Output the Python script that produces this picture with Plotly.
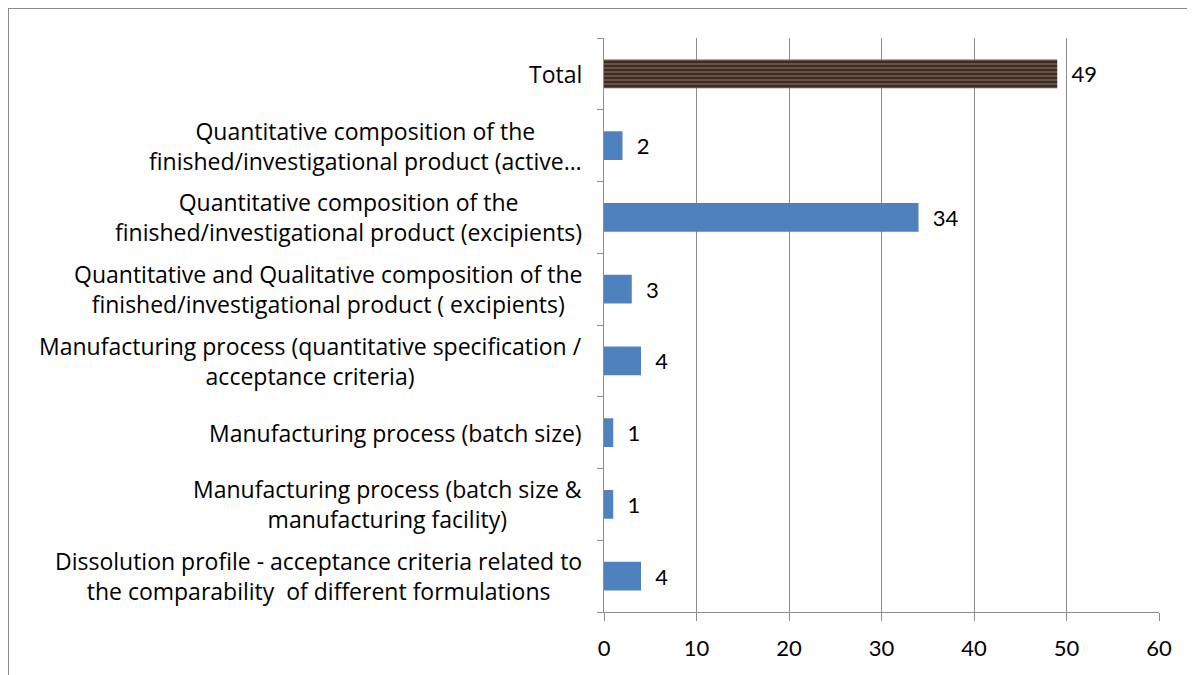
import plotly.graph_objects as go

# ---------------------------------------------
# DATA (bottom to top)
# ---------------------------------------------
categories = [
    "Dissolution profile - acceptance criteria related to<br>the comparability  of different formulations",
    "Manufacturing process (batch size &<br>manufacturing facility)",
    "Manufacturing process (batch size)",
    "Manufacturing process (quantitative specification /<br>acceptance criteria)",
    "Quantitative and Qualitative composition of the<br>finished/investigational product ( excipients)",
    "Quantitative composition of the<br>finished/investigational product (excipients)",
    "Quantitative composition of the<br>finished/investigational product (active…",
    "Total",
]
counts = [4, 1, 1, 4, 3, 34, 2, 49]
x_ticks = [0, 10, 20, 30, 40, 50, 60]

BLUE = "#4F81BD"
BROWN = "#3F2C1F"
GRID = "#8C8C8C"
FONT = "Lato"
LABEL_FONT = "Open Sans"

bar_colors = [BROWN if c == "Total" else BLUE for c in categories]

fig = go.Figure()

fig.add_trace(go.Bar(
    y=categories,
    x=counts,
    orientation="h",
    width=0.4,
    marker=dict(
        color=bar_colors,
        line=dict(width=0),
        pattern=dict(
            shape=["-" if c == "Total" else "" for c in categories],
            fgcolor="#4B3729",
            size=4,
            solidity=0.2,
        ),
    ),
    text=["  " + str(v) for v in counts],
    textposition="outside",
    textfont=dict(size=22, color="#000000", family=FONT),
    cliponaxis=False,
    hoverinfo="x+y",
))

# category labels: right-aligned block, centered lines
for c in categories:
    fig.add_annotation(
        x=0, xref="paper",
        y=c, yref="y",
        text=c,
        showarrow=False,
        xanchor="right",
        align="center",
        xshift=-20,
        font=dict(size=23, color="#000000", family=LABEL_FONT),
    )

# outer frame (top and left edges of the chart box)
fig.add_shape(type="line", xref="paper", yref="paper",
              x0=-596 / 555, x1=1.2,
              y0=1 + 30 / 574, y1=1 + 30 / 574,
              line=dict(color="#8A8A8A", width=2))
fig.add_shape(type="line", xref="paper", yref="paper",
              x0=-596 / 555, x1=-596 / 555,
              y0=1 + 30 / 574, y1=-0.2,
              line=dict(color="#8A8A8A", width=2))

fig.update_layout(
    width=1187,
    height=667,
    margin=dict(l=596, r=36, t=30, b=63, autoexpand=False),
    paper_bgcolor="white",
    plot_bgcolor="white",
    showlegend=False,
    bargap=0.6,
    font=dict(family=FONT, size=22, color="#000000"),
)

fig.update_xaxes(
    range=[0, 60],
    tickvals=x_ticks,
    showgrid=True,
    gridcolor=GRID,
    gridwidth=1,
    showline=True,
    linecolor=GRID,
    linewidth=1,
    ticks="outside",
    ticklen=8,
    tickcolor=GRID,
    tickfont=dict(size=22, family=FONT, color="#000000"),
    ticklabelstandoff=9,
    zeroline=False,
    fixedrange=True,
)

fig.update_yaxes(
    type="category",
    categoryorder="array",
    categoryarray=categories,
    showticklabels=False,
    showline=True,
    linecolor=GRID,
    linewidth=1,
    ticks="outside",
    tickson="boundaries",
    ticklen=6,
    tickcolor=GRID,
    showgrid=False,
    fixedrange=True,
)

fig.write_html("out.html")
